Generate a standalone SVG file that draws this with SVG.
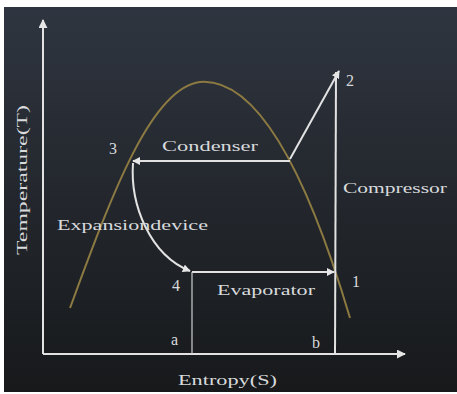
<svg xmlns="http://www.w3.org/2000/svg" width="457" height="394" viewBox="0 0 457 394">
<defs>
<linearGradient id="bg" x1="0" y1="0" x2="0" y2="1">
<stop offset="0" stop-color="#2f3540"/>
<stop offset="0.5" stop-color="#23272d"/>
<stop offset="1" stop-color="#17191b"/>
</linearGradient>
<marker id="ah" viewBox="0 0 10 10" refX="9" refY="5" markerWidth="8" markerHeight="8" markerUnits="userSpaceOnUse" orient="auto">
<path d="M0,0 L10,5 L0,10 Z" fill="#e6e6e6"/>
</marker>
<marker id="ax" viewBox="0 0 10 10" refX="9" refY="5" markerWidth="9" markerHeight="9" markerUnits="userSpaceOnUse" orient="auto">
<path d="M0,0 L10,5 L0,10 Z" fill="#e6e6e6"/>
</marker>
</defs>
<style>
text{font-family:"Liberation Serif","DejaVu Serif",serif;fill:#d8dadc;font-size:15px}
.num{font-size:16px}
.ln{stroke:#e2e2e2;stroke-width:2;fill:none}
.thin{stroke:#cfcfcf;stroke-width:1.2;fill:none}
</style>
<rect x="0" y="0" width="457" height="394" fill="#ffffff"/>
<rect x="4" y="7" width="453" height="385" fill="url(#bg)"/>
<g id="dome">
<path d="M70,308 C110,200 150,88 200,82 C250,78 300,150 350,318" stroke="#8c7a42" stroke-width="2" fill="none"/>
</g>
<g id="connectors">
<line class="ln" x1="43" y1="354" x2="43" y2="20" marker-end="url(#ax)"/>
<line class="ln" x1="43" y1="354" x2="405" y2="354" marker-end="url(#ax)"/>
<line class="ln" x1="290" y1="159" x2="339" y2="71" marker-end="url(#ah)"/>
<line class="ln" x1="336" y1="72" x2="335" y2="354"/>
<line class="ln" x1="290" y1="161" x2="133" y2="161" marker-end="url(#ah)"/>
<path class="ln" d="M133,163 C130,205 150,255 190,271" marker-end="url(#ah)"/>
<line class="ln" x1="192" y1="272" x2="334" y2="272" marker-end="url(#ah)"/>
<line class="thin" x1="192" y1="272" x2="192" y2="354"/>
</g>
<g id="labels">
<text x="22" y="180" text-anchor="middle" transform="rotate(-90 22 180)" dy="5" textLength="150" lengthAdjust="spacingAndGlyphs">Temperature(T)</text>
<text x="178" y="385" textLength="99" lengthAdjust="spacingAndGlyphs">Entropy(S)</text>
<text x="162" y="151" textLength="96" lengthAdjust="spacingAndGlyphs">Condenser</text>
<text x="343" y="193" textLength="104" lengthAdjust="spacingAndGlyphs">Compressor</text>
<text x="57" y="230" textLength="151" lengthAdjust="spacingAndGlyphs">Expansiondevice</text>
<text x="217" y="295" textLength="98" lengthAdjust="spacingAndGlyphs">Evaporator</text>
<text class="num" x="109" y="154">3</text>
<text class="num" x="346" y="86">2</text>
<text class="num" x="352" y="287">1</text>
<text class="num" x="172" y="291">4</text>
<text class="num" x="171" y="345">a</text>
<text class="num" x="312" y="348">b</text>
</g>
</svg>
